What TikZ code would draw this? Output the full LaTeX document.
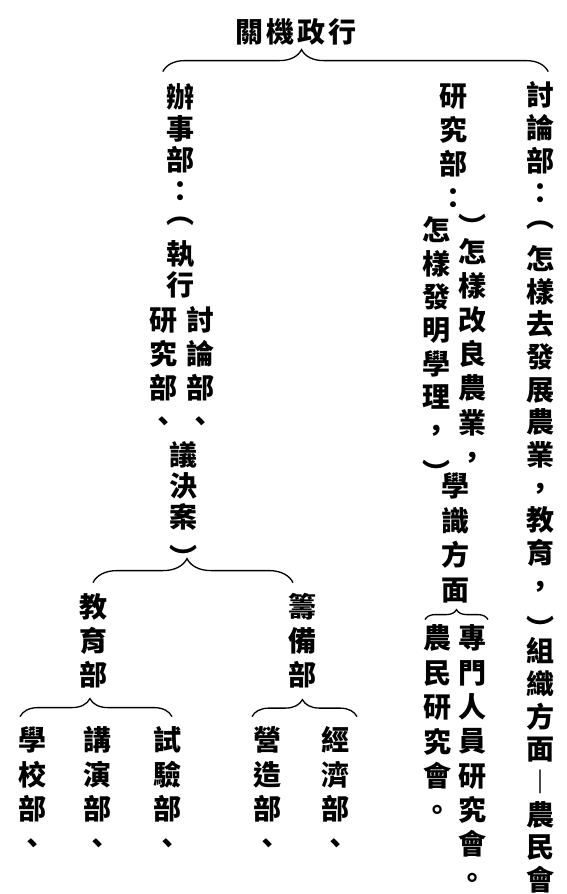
\documentclass[tikz,border=0pt]{standalone}
\usepackage{fontspec}
\newfontfamily\cjk{Noto Sans CJK TC}
\usetikzlibrary{decorations.pathreplacing}
\tikzset{vcol/.style={align=center, inner sep=0pt, anchor=north, font=\cjk\bfseries\fontsize{28}{#1}\selectfont}, vcol/.default=34}
\newcommand{\vs}{\rule{0pt}{25pt}}
% vertical brackets, moved to the middle of their line
\newcommand{\vopen}{\smash{\raisebox{0.34em}{︵}}}
\newcommand{\vclose}{\smash{\raisebox{-0.36em}{︶}}}

\begin{document}
\begin{tikzpicture}[x=1pt, y=-1pt]
    \tikzstyle{brc} = [decorate, line width=1.3pt]
    \useasboundingbox (0,0) rectangle (566,894);

    % heading and the three departments
    \node (xingzheng) at (296,32) [font=\cjk\bfseries\fontsize{28}{34}\selectfont, inner sep=0pt] {關\hspace{3pt}機\hspace{3pt}政\hspace{3pt}行};
    \node (taolun) at (540,80.6) [vcol=32.7] {\vs 討\\論\\部\\：\\\vopen\\怎\\樣\\去\\發\\展\\農\\業\\，\\教\\育\\，\\\vclose\\組\\織\\方\\面\\︱\\農\\民\\會};
    \node (yanjiu) at (453,81.6) [vcol] {\vs 研\\究\\部\\：};
    \node (yanjiuR) at (472,202.6) [vcol=34.2] {\vs \vclose\\怎\\樣\\改\\良\\農\\業\\，};
    \node (yanjiuL) at (436,215.6) [vcol=33.3] {\vs 怎\\樣\\發\\明\\學\\理\\，\\\vclose};
    \node (xueshi) at (455,471.6) [vcol=34.5] {\vs 學\\識\\方\\面};
    \node (zhuanmen) at (472,623.6) [vcol=34.3] {\vs 專\\門\\人\\員\\研\\究\\會\\。};
    \node (nongmin) at (437,623.6) [vcol=34.4] {\vs 農\\民\\研\\究\\會\\。};
    \node (banshi) at (180,82.6) [vcol=31.3] {\vs 辦\\事\\部\\：\\\vopen\\執\\行};
    \node (banshiR) at (200,305.6) [vcol=33.7] {\vs 討\\論\\部\\、};
    \node (banshiL) at (163,305.6) [vcol=33.7] {\vs 研\\究\\部\\、};
    \node (yijue) at (183,440.6) [vcol=31] {\vs 議\\決\\案\\\vclose};

    % sub departments
    \node (jiaoyu) at (93,592.6) [vcol] {\vs 教\\育\\部};
    \node (choubei) at (302,592.6) [vcol] {\vs 籌\\備\\部};
    \node (xuexiao) at (32,725.6) [vcol=34.3] {\vs 學\\校\\部\\、};
    \node (jiangyan) at (97,725.6) [vcol=34.3] {\vs 講\\演\\部\\、};
    \node (shiyan) at (167,725.6) [vcol=34.3] {\vs 試\\驗\\部\\、};
    \node (yingzao) at (267,725.6) [vcol=34.3] {\vs 營\\造\\部\\、};
    \node (jingji) at (335,725.6) [vcol=34.3] {\vs 經\\濟\\部\\、};

    \draw [brc, decoration={brace, amplitude=22pt, aspect=0.36}]
      ([shift={(-3,-11)}]banshi.north west) -- ([shift={(-6,-9)}]taolun.north east);
    \draw [brc, decoration={brace, amplitude=24pt, aspect=0.47}]
      ([shift={(0,-10)}]jiaoyu.north) -- ([shift={(-9,-10)}]choubei.north);
    \draw [brc, decoration={brace, amplitude=18pt, aspect=0.46}]
      ([shift={(-12,-9)}]xuexiao.north) -- ([shift={(5,-9)}]shiyan.north);
    \draw [brc, decoration={brace, amplitude=17pt, aspect=0.48}]
      ([shift={(-15,-9)}]yingzao.north) -- ([shift={(22,-9)}]jingji.north);
    \draw [brc, decoration={brace, amplitude=10pt, aspect=0.5}]
      ([shift={(-12,-4)}]nongmin.north) -- ([shift={(16,-4)}]zhuanmen.north);
\end{tikzpicture}
\end{document}
